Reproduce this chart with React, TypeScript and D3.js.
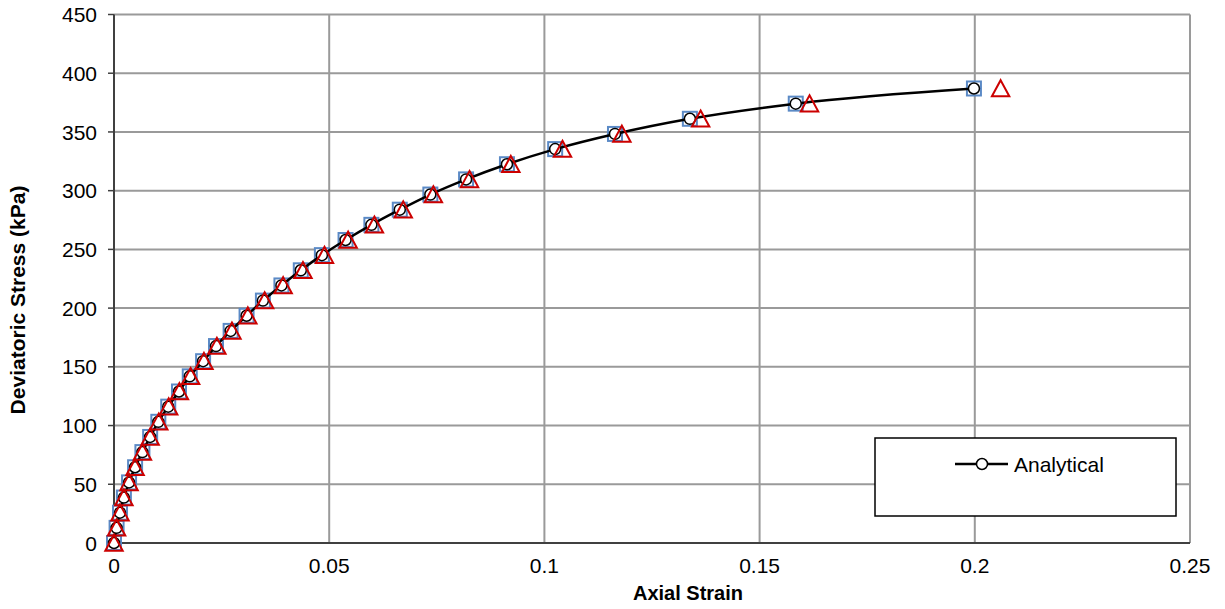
import React from "react";
import * as d3 from "d3";

const xTicks = [0, 0.05, 0.1, 0.15, 0.2, 0.25];
const yTicks = [0, 50, 100, 150, 200, 250, 300, 350, 400, 450];

const analyticalStrain = [0, 0.0006, 0.0014, 0.0023, 0.0035, 0.0049, 0.0066, 0.0084, 0.0103, 0.0126, 0.0151, 0.0176, 0.0207, 0.0237, 0.0271, 0.0308, 0.0346, 0.0389, 0.0434, 0.0483, 0.0538, 0.0598, 0.0664, 0.0735, 0.0818, 0.0913, 0.1025, 0.1164, 0.1338, 0.1584, 0.1998];
const analyticalStress = [0, 12.9, 25.8, 38.7, 51.6, 64.5, 77.4, 90.3, 103.2, 116.1, 129.0, 141.9, 154.8, 167.7, 180.6, 193.5, 206.4, 219.3, 232.2, 245.1, 258.0, 270.9, 283.8, 296.7, 309.6, 322.5, 335.4, 348.3, 361.2, 374.1, 387.0];

const squareStrain = [0, 0.0006, 0.0014, 0.0023, 0.0035, 0.0049, 0.0066, 0.0084, 0.0103, 0.0126, 0.0151, 0.0176, 0.0207, 0.0237, 0.0271, 0.0308, 0.0346, 0.0389, 0.0434, 0.0483, 0.0538, 0.0598, 0.0664, 0.0735, 0.0818, 0.0913, 0.1025, 0.1164, 0.1338, 0.1584, 0.1998];
const squareStress = [0, 12.9, 25.8, 38.7, 51.6, 64.5, 77.4, 90.3, 103.2, 116.1, 129.0, 141.9, 154.8, 167.7, 180.6, 193.5, 206.4, 219.3, 232.2, 245.1, 258.0, 270.9, 283.8, 296.7, 309.6, 322.5, 335.4, 348.3, 361.2, 374.1, 387.0];

const triangleStrain = [0, 0.0006, 0.0014, 0.0023, 0.0035, 0.0049, 0.0066, 0.0084, 0.0104, 0.0127, 0.0152, 0.0178, 0.0209, 0.0239, 0.0274, 0.0311, 0.035, 0.0393, 0.0439, 0.0489, 0.0544, 0.0605, 0.0672, 0.0742, 0.0826, 0.0922, 0.1042, 0.118, 0.1363, 0.1616, 0.206];
const triangleStress = [0, 12.9, 25.8, 38.7, 51.6, 64.5, 77.4, 90.3, 103.2, 116.1, 129.0, 141.9, 154.8, 167.7, 180.6, 193.5, 206.4, 219.3, 232.2, 245.1, 258.0, 270.9, 283.8, 296.7, 309.6, 322.5, 335.4, 348.3, 361.2, 374.1, 387.0];

const legendLabel = "Analytical";
const xTitle = "Axial Strain";
const yTitle = "Deviatoric Stress (kPa)";

const W = 1225;
const H = 609;
const left = 114, right = 1190, top = 14.5, bottom = 543;

export default function App() {
  const x = d3.scaleLinear().domain([0, 0.25]).range([left, right]);
  const y = d3.scaleLinear().domain([0, 450]).range([bottom, top]);
  const font = "Arial, 'Liberation Sans', sans-serif";

  const line = d3
    .line<number>()
    .x((_, i) => x(analyticalStrain[i]))
    .y((d) => y(d))
    .curve(d3.curveMonotoneX);

  const tri = (cx: number, cy: number, s: number) =>
    `M${cx},${cy - s * 0.62}L${cx + s * 0.58},${cy + s * 0.45}L${cx - s * 0.58},${cy + s * 0.45}Z`;

  return (
    <svg width={W} height={H} style={{ position: "absolute", left: 0, top: 0, background: "#fff" }}>
      <rect x={0} y={0} width={W} height={H} fill="#fff" />
      {xTicks.slice(1).map((t) => (
        <line key={"gx" + t} x1={x(t)} x2={x(t)} y1={top} y2={bottom} stroke="#9a9a9a" strokeWidth={2} />
      ))}
      {yTicks.slice(1).map((t) => (
        <line key={"gy" + t} x1={left} x2={right} y1={y(t)} y2={y(t)} stroke="#9a9a9a" strokeWidth={2} />
      ))}
      <line x1={left} x2={left} y1={top} y2={bottom} stroke="#404040" strokeWidth={2} />
      <line x1={left} x2={right} y1={bottom} y2={bottom} stroke="#404040" strokeWidth={2} />
      {yTicks.map((t) => (
        <line key={"ty" + t} x1={left - 6} x2={left} y1={y(t)} y2={y(t)} stroke="#404040" strokeWidth={1.5} />
      ))}
      {yTicks.map((t) => (
        <text key={"ly" + t} x={97} y={y(t)} dy="0.36em" textAnchor="end" fontFamily={font} fontSize={21} fill="#000">
          {t}
        </text>
      ))}
      {xTicks.map((t) => (
        <text key={"lx" + t} x={x(t)} y={573} textAnchor="middle" fontFamily={font} fontSize={21} fill="#000">
          {d3.format("~g")(t)}
        </text>
      ))}
      <text x={688} y={600} textAnchor="middle" fontFamily={font} fontSize={20} fontWeight="bold">
        {xTitle}
      </text>
      <text
        transform={`translate(25,300) rotate(-90)`}
        textAnchor="middle"
        fontFamily={font}
        fontSize={21}
        fontWeight="bold"
      >
        {yTitle}
      </text>

      {squareStrain.map((s, i) => (
        <rect
          key={"sq" + i}
          x={x(s) - 7}
          y={y(squareStress[i]) - 7}
          width={14}
          height={14}
          fill="#fff"
          stroke="#5b8ac6"
          strokeWidth={2}
        />
      ))}
      <path d={line(analyticalStress) || ""} fill="none" stroke="#000" strokeWidth={2.5} />
      {analyticalStrain.map((s, i) => (
        <circle key={"c" + i} cx={x(s)} cy={y(analyticalStress[i])} r={5.5} fill="#fff" stroke="#000" strokeWidth={1.5} />
      ))}
      {triangleStrain.map((s, i) => (
        <path key={"t" + i} d={tri(x(s), y(triangleStress[i]) + 1, 15)} fill="none" stroke="#cc0000" strokeWidth={2} />
      ))}

      <rect x={875} y={438} width={301} height={78} fill="#fff" stroke="#000" strokeWidth={1.5} />
      <line x1={955} x2={1008} y1={464} y2={464} stroke="#000" strokeWidth={2.5} />
      <circle cx={982} cy={464} r={5.5} fill="#fff" stroke="#000" strokeWidth={1.5} />
      <text x={1014} y={464} dy="0.36em" fontFamily={font} fontSize={21}>
        {legendLabel}
      </text>
    </svg>
  );
}
